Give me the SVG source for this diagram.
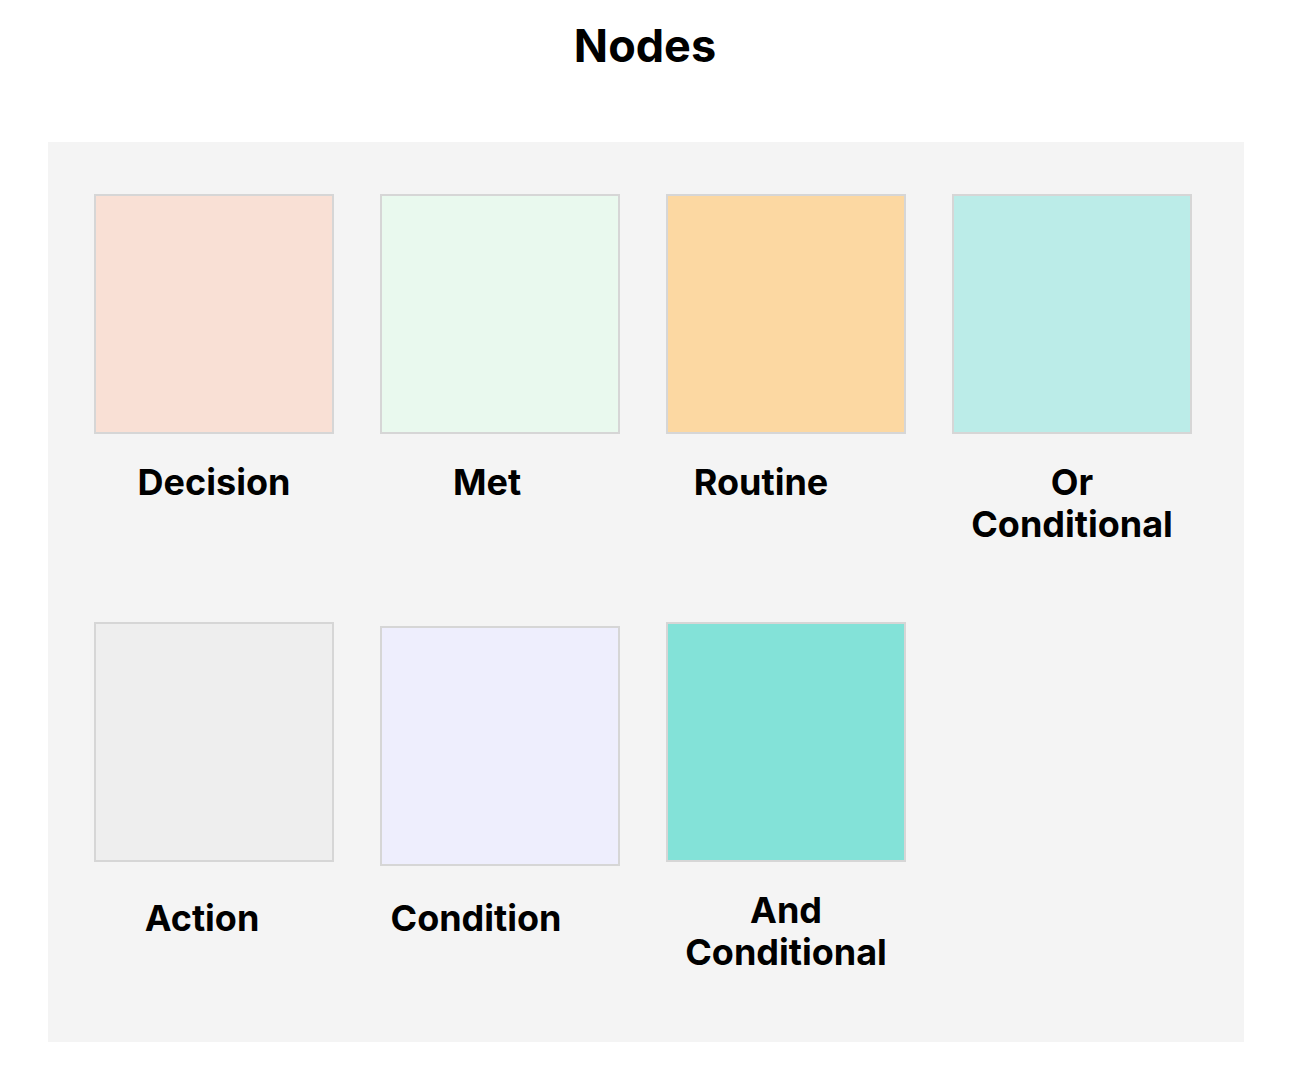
<svg xmlns="http://www.w3.org/2000/svg" width="1292" height="1084" viewBox="0 0 1292 1084">
<style>
.box{stroke:#d6d6d6;stroke-width:2}
.lbl{font-family:Inter,"Noto Sans","Liberation Sans",sans-serif;font-weight:700;font-size:36px;fill:#000;text-anchor:middle}
.title{font-family:Inter,"Noto Sans","Liberation Sans",sans-serif;font-weight:700;font-size:45px;fill:#000;text-anchor:middle}
</style>
<rect width="1292" height="1084" fill="#ffffff"/>
<text class="title" x="645" y="62">Nodes</text>
<rect x="48" y="142" width="1196" height="900" fill="#f4f4f4"/>
<g id="decision">
<rect class="box" x="95" y="195" width="238" height="238" fill="#f9e0d5"/>
<text class="lbl" x="214" y="495">Decision</text>
</g>
<g id="met">
<rect class="box" x="381" y="195" width="238" height="238" fill="#e9f9ee"/>
<text class="lbl" x="487" y="495">Met</text>
</g>
<g id="routine">
<rect class="box" x="667" y="195" width="238" height="238" fill="#fcd8a2"/>
<text class="lbl" x="761" y="495">Routine</text>
</g>
<g id="or-conditional">
<rect class="box" x="953" y="195" width="238" height="238" fill="#bbece8"/>
<text class="lbl" x="1072" y="495">Or</text>
<text class="lbl" x="1072" y="537">Conditional</text>
</g>
<g id="action">
<rect class="box" x="95" y="623" width="238" height="238" fill="#eeeeee"/>
<text class="lbl" x="202" y="931">Action</text>
</g>
<g id="condition">
<rect class="box" x="381" y="627" width="238" height="238" fill="#eeeefd"/>
<text class="lbl" x="476" y="931">Condition</text>
</g>
<g id="and-conditional">
<rect class="box" x="667" y="623" width="238" height="238" fill="#83e2d8"/>
<text class="lbl" x="786" y="923">And</text>
<text class="lbl" x="786" y="965">Conditional</text>
</g>
<g id="connectors"></g>
</svg>
